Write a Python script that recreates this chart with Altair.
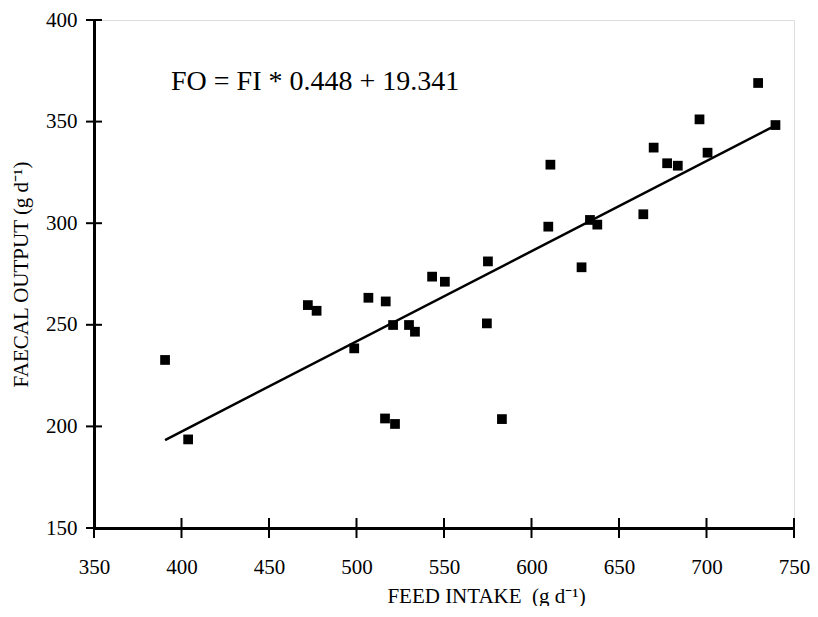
import altair as alt
import pandas as pd

feed_intake = [390.6, 403.8, 472.2, 477.2, 498.7, 506.8, 516.7, 516.3, 522.0, 520.9,
               530.0, 533.4, 543.2, 550.5, 574.5, 575.1, 583.1, 609.6, 610.8, 628.6,
               633.4, 637.6, 663.9, 669.8, 677.5, 683.6, 696.0, 700.6, 729.5, 739.4]
faecal_output = [232.7, 193.6, 259.7, 256.9, 238.4, 263.3, 261.5, 203.9, 201.2, 249.9,
                 249.9, 246.6, 273.7, 271.2, 250.7, 281.2, 203.6, 298.3, 328.8, 278.3,
                 301.6, 299.3, 304.4, 337.2, 329.5, 328.3, 351.1, 334.7, 369.0, 348.3]

fit_x = [390.6, 737.0]
fit_y = [193.3, 347.0]

x_ticks = [350, 400, 450, 500, 550, 600, 650, 700, 750]
y_ticks = [150, 200, 250, 300, 350, 400]

eq_text = ["FO = FI * 0.448 + 19.341"]
eq_x = [394.0]
eq_y = [369.5]

W, H = 700, 508
FONT = "Liberation Serif, Times New Roman, serif"

pts = pd.DataFrame({"fi": feed_intake, "fo": faecal_output})
fit = pd.DataFrame({"fi": fit_x, "fo": fit_y})
xt = pd.DataFrame({"v": x_ticks})
yt = pd.DataFrame({"v": y_ticks})
eq = pd.DataFrame({"t": eq_text, "fi": eq_x, "fo": eq_y})

xs = alt.Scale(domain=[350, 750], nice=False, zero=False)
ys = alt.Scale(domain=[150, 400], nice=False, zero=False)

x_axis = alt.Axis(values=x_ticks, ticks=False, grid=False, domainColor="black",
                  domainWidth=3, labelFont=FONT, labelFontSize=21, labelColor="black",
                  labelFlush=False, labelOverlap=False,
                  labelPadding=28, title="FEED INTAKE\u00a0\u00a0(g d\u207b\u00b9)", titleFont=FONT,
                  titleFontSize=21, titleFontWeight="normal", titleColor="black",
                  titlePadding=8, titleX=392)
y_axis = alt.Axis(values=y_ticks, ticks=False, grid=False, domainColor="black",
                  domainWidth=3, labelFont=FONT, labelFontSize=21, labelColor="black",
                  labelFlush=False, labelOverlap=False,
                  labelPadding=17, title="FAECAL OUTPUT (g d\u207b\u00b9)", titleFont=FONT,
                  titleFontSize=21, titleFontWeight="normal", titleColor="black",
                  titlePadding=14)

points = alt.Chart(pts).mark_square(size=95, color="black", opacity=1).encode(
    x=alt.X("fi:Q", scale=xs, axis=x_axis),
    y=alt.Y("fo:Q", scale=ys, axis=y_axis),
)

line = alt.Chart(fit).mark_line(color="black", strokeWidth=2.5).encode(
    x=alt.X("fi:Q", scale=xs), y=alt.Y("fo:Q", scale=ys)
)

xtick_marks = alt.Chart(xt).mark_rule(color="black", strokeWidth=2).encode(
    x=alt.X("v:Q", scale=xs), y=alt.value(H - 10), y2=alt.value(H + 10)
)
ytick_marks = alt.Chart(yt).mark_rule(color="black", strokeWidth=2).encode(
    y=alt.Y("v:Q", scale=ys), x=alt.value(-8), x2=alt.value(8)
)

text = alt.Chart(eq).mark_text(font=FONT, fontSize=28, align="left", baseline="middle",
                               color="black").encode(
    x=alt.X("fi:Q", scale=xs), y=alt.Y("fo:Q", scale=ys), text="t:N"
)

chart = alt.layer(line, points, xtick_marks, ytick_marks, text).properties(
    width=W, height=H,
    autosize=alt.AutoSizeParams(type="none"),
    padding={"left": 86, "top": 12, "right": 16, "bottom": 78},
).configure_view(stroke=None).configure(background="white")

chart.save("out.html", embed_options={"renderer": "svg", "actions": False})
